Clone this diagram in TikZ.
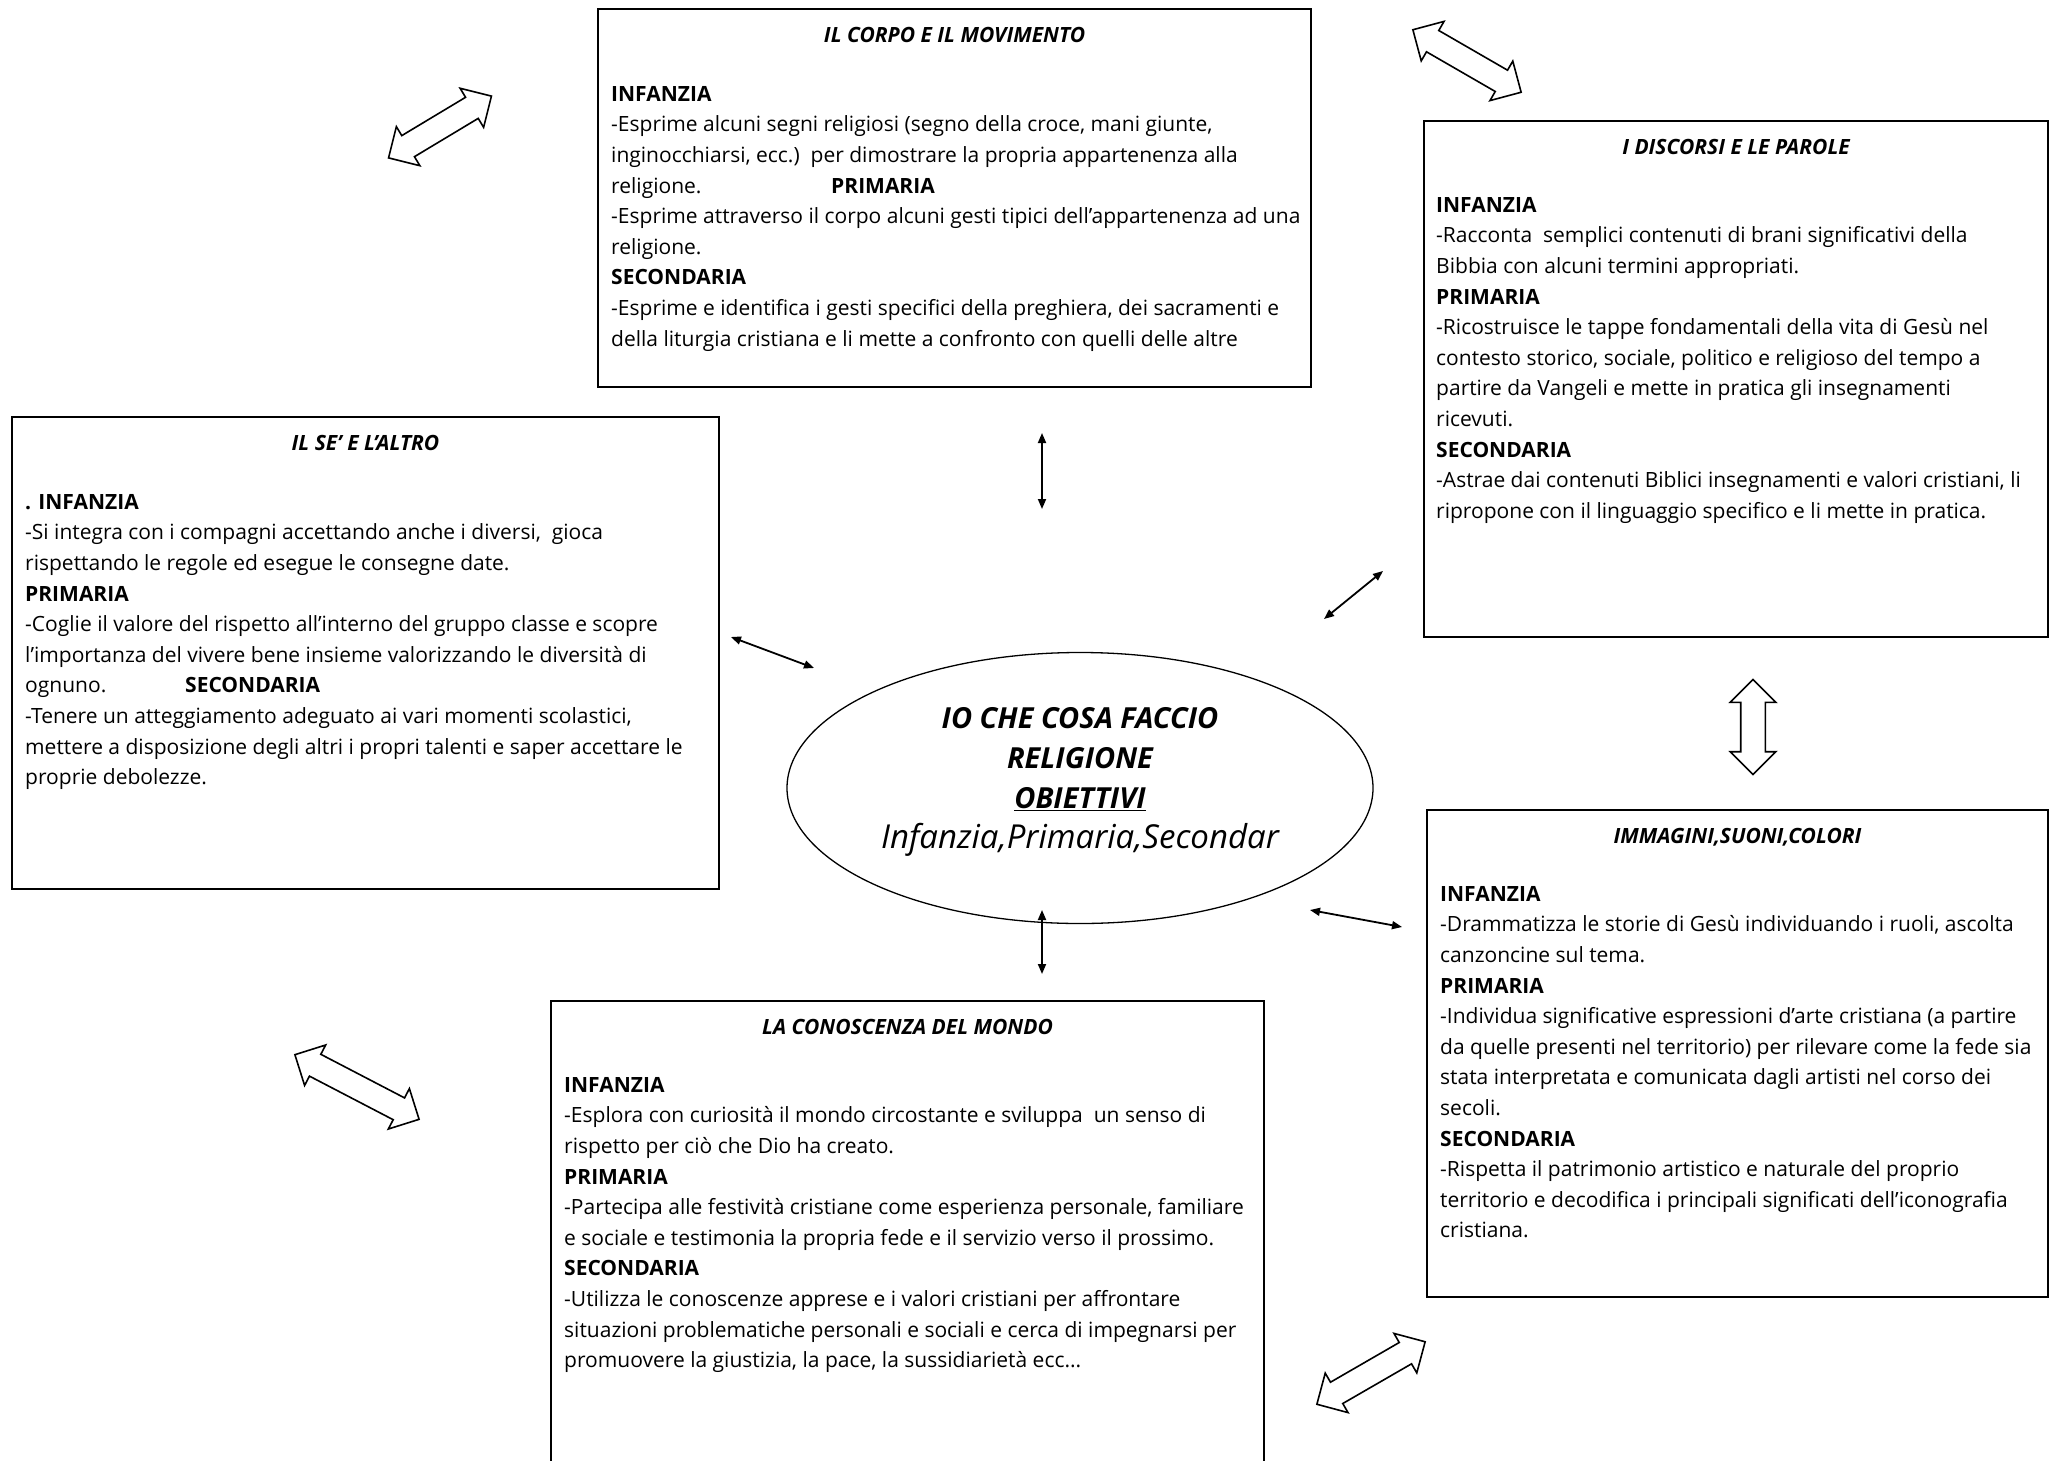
\documentclass[tikz,border=0pt]{standalone}
\usepackage{fontspec}
\setmainfont{Open Sans}
\usetikzlibrary{shapes.geometric,shapes.arrows,arrows.meta}

\newcommand{\padto}[2]{\makebox[#1][l]{#2}}

\begin{document}
\begin{tikzpicture}[x=1pt,y=-1pt]
\tikzstyle{box}=[draw,line width=1.3pt,outer sep=0pt,inner sep=0pt,anchor=north west]
\tikzstyle{title}=[anchor=base,inner sep=0pt,font=\fontsize{21}{30.6}\selectfont\bfseries\itshape]
\tikzstyle{body}=[anchor=north west,inner sep=0pt,align=left,font=\fontsize{21}{30.6}\selectfont]
\tikzstyle{fat}=[double arrow,draw,line width=1.6pt,inner xsep=0pt,inner ysep=11.5pt,double arrow head extend=10.5pt]
\tikzstyle{link}=[line width=1.8pt,{Triangle[length=10pt,width=8pt]}-{Triangle[length=10pt,width=8pt]}]

\useasboundingbox (0,0) rectangle (2058,1461);

% the five boxes
\node (corpo) [box,minimum width=713pt,minimum height=378pt] at (598,9) {};
\node (discorsi) [box,minimum width=624pt,minimum height=516pt] at (1424,121) {};
\node (se) [box,minimum width=707pt,minimum height=472pt] at (12,417) {};
\node (immagini) [box,minimum width=621pt,minimum height=487pt] at (1427,810) {};
\node (mondo) [box,minimum width=713pt,minimum height=480pt] at (551,1001) {};

\node (corpoT) [title,yshift=-33.5pt] at (corpo.north) {IL CORPO E IL MOVIMENTO};
\node (discorsiT) [title,yshift=-33.5pt] at (discorsi.north) {I DISCORSI E LE PAROLE};
\node (seT) [title,yshift=-33.5pt] at (se.north) {IL SE’ E L’ALTRO};
\node (immaginiT) [title,yshift=-33.5pt] at (immagini.north) {IMMAGINI,SUONI,COLORI};
\node (mondoT) [title,yshift=-33.5pt] at (mondo.north) {LA CONOSCENZA DEL MONDO};

\node (corpoB) [body,xshift=13pt,yshift=-77pt] at (corpo.north west) {\textbf{INFANZIA}\\
-Esprime alcuni segni religiosi (segno della croce, mani giunte,\\
inginocchiarsi, ecc.)\ \ per dimostrare la propria appartenenza alla\\
\padto{220pt}{religione.}\textbf{PRIMARIA}\\
-Esprime attraverso il corpo alcuni gesti tipici dell'appartenenza ad una\\
religione.\\
\textbf{SECONDARIA}\\
-Esprime e identifica i gesti specifici della preghiera, dei sacramenti e\\
della liturgia cristiana e li mette a confronto con quelli delle altre};

\node (discorsiB) [body,xshift=12pt,yshift=-76pt] at (discorsi.north west) {\textbf{INFANZIA}\\
-Racconta\ \ semplici contenuti di brani significativi della\\
Bibbia con alcuni termini appropriati.\\
\textbf{PRIMARIA}\\
-Ricostruisce le tappe fondamentali della vita di Gesù nel\\
contesto storico, sociale, politico e religioso del tempo a\\
partire da Vangeli e mette in pratica gli insegnamenti\\
ricevuti.\\
\textbf{SECONDARIA}\\
-Astrae dai contenuti Biblici insegnamenti e valori cristiani, li\\
ripropone con il linguaggio specifico e li mette in pratica.};

\node (seB) [body,xshift=13pt,yshift=-77pt] at (se.north west) {\textbf{. INFANZIA}\\
-Si integra con i compagni accettando anche i diversi,\ \ gioca\\
rispettando le regole ed esegue le consegne date.\\
\textbf{PRIMARIA}\\
-Coglie il valore del rispetto all'interno del gruppo classe e scopre\\
l'importanza del vivere bene insieme valorizzando le diversità di\\
\padto{160pt}{ognuno.}\textbf{SECONDARIA}\\
-Tenere un atteggiamento adeguato ai vari momenti scolastici,\\
mettere a disposizione degli altri i propri talenti e saper accettare le\\
proprie debolezze.};

\node (immaginiB) [body,xshift=13pt,yshift=-76pt] at (immagini.north west) {\textbf{INFANZIA}\\
-Drammatizza le storie di Gesù individuando i ruoli, ascolta\\
canzoncine sul tema.\\
\textbf{PRIMARIA}\\
-Individua significative espressioni d'arte cristiana (a partire\\
da quelle presenti nel territorio) per rilevare come la fede sia\\
stata interpretata e comunicata dagli artisti nel corso dei\\
secoli.\\
\textbf{SECONDARIA}\\
-Rispetta il patrimonio artistico e naturale del proprio\\
territorio e decodifica i principali significati dell'iconografia\\
cristiana.};

\node (mondoB) [body,xshift=13pt,yshift=-76pt] at (mondo.north west) {\textbf{INFANZIA}\\
-Esplora con curiosità il mondo circostante e sviluppa\ \ un senso di\\
rispetto per ciò che Dio ha creato.\\
\textbf{PRIMARIA}\\
-Partecipa alle festività cristiane come esperienza personale, familiare\\
e sociale e testimonia la propria fede e il servizio verso il prossimo.\\
\textbf{SECONDARIA}\\
-Utilizza le conoscenze apprese e i valori cristiani per affrontare\\
situazioni problematiche personali e sociali e cerca di impegnarsi per\\
promuovere la giustizia, la pace, la sussidiarietà ecc...};

% centre
\node (io) [ellipse,draw,line width=1.3pt,inner sep=0pt,minimum width=586pt,minimum height=271pt] at (1080,788) {};
\node (ioT) [align=center,inner sep=0pt,yshift=6pt,font=\fontsize{29}{40}\selectfont\itshape] at (io.center) {\textbf{IO CHE COSA FACCIO}\\
\textbf{RELIGIONE}\\
\textbf{\underline{OBIETTIVI}}\\
{\fontsize{33}{40}\selectfont Infanzia,Primaria,Secondar}};

% thin arrows
\coordinate (up1) at (1042,433);
\coordinate (up2) at (1042,509);
\coordinate (dn1) at (1042,910);
\coordinate (dn2) at (1042,974);
\coordinate (lf1) at (731,637);
\coordinate (lf2) at (814,668);
\coordinate (rt1) at (1324,619);
\coordinate (rt2) at (1383,571);
\coordinate (rb1) at (1310,910);
\coordinate (rb2) at (1402,927);
\draw [link] (up1) -- (up2);
\draw [link] (dn1) -- (dn2);
\draw [link] (lf1) -- (lf2);
\draw [link] (rt1) -- (rt2);
\draw [link] (rb1) -- (rb2);

% hollow arrows
\node (fat1) [fat,minimum height=120pt,rotate=31] at (440,127) {};
\node (fat2) [fat,minimum height=125pt,rotate=-30] at (1467,61) {};
\node (fat3) [fat,minimum height=95pt,rotate=90] at (1753,727) {};
\node (fat4) [fat,minimum height=140pt,rotate=-27.5] at (357,1087) {};
\node (fat5) [fat,minimum height=125pt,rotate=30] at (1371,1373) {};

\end{tikzpicture}
\end{document}
